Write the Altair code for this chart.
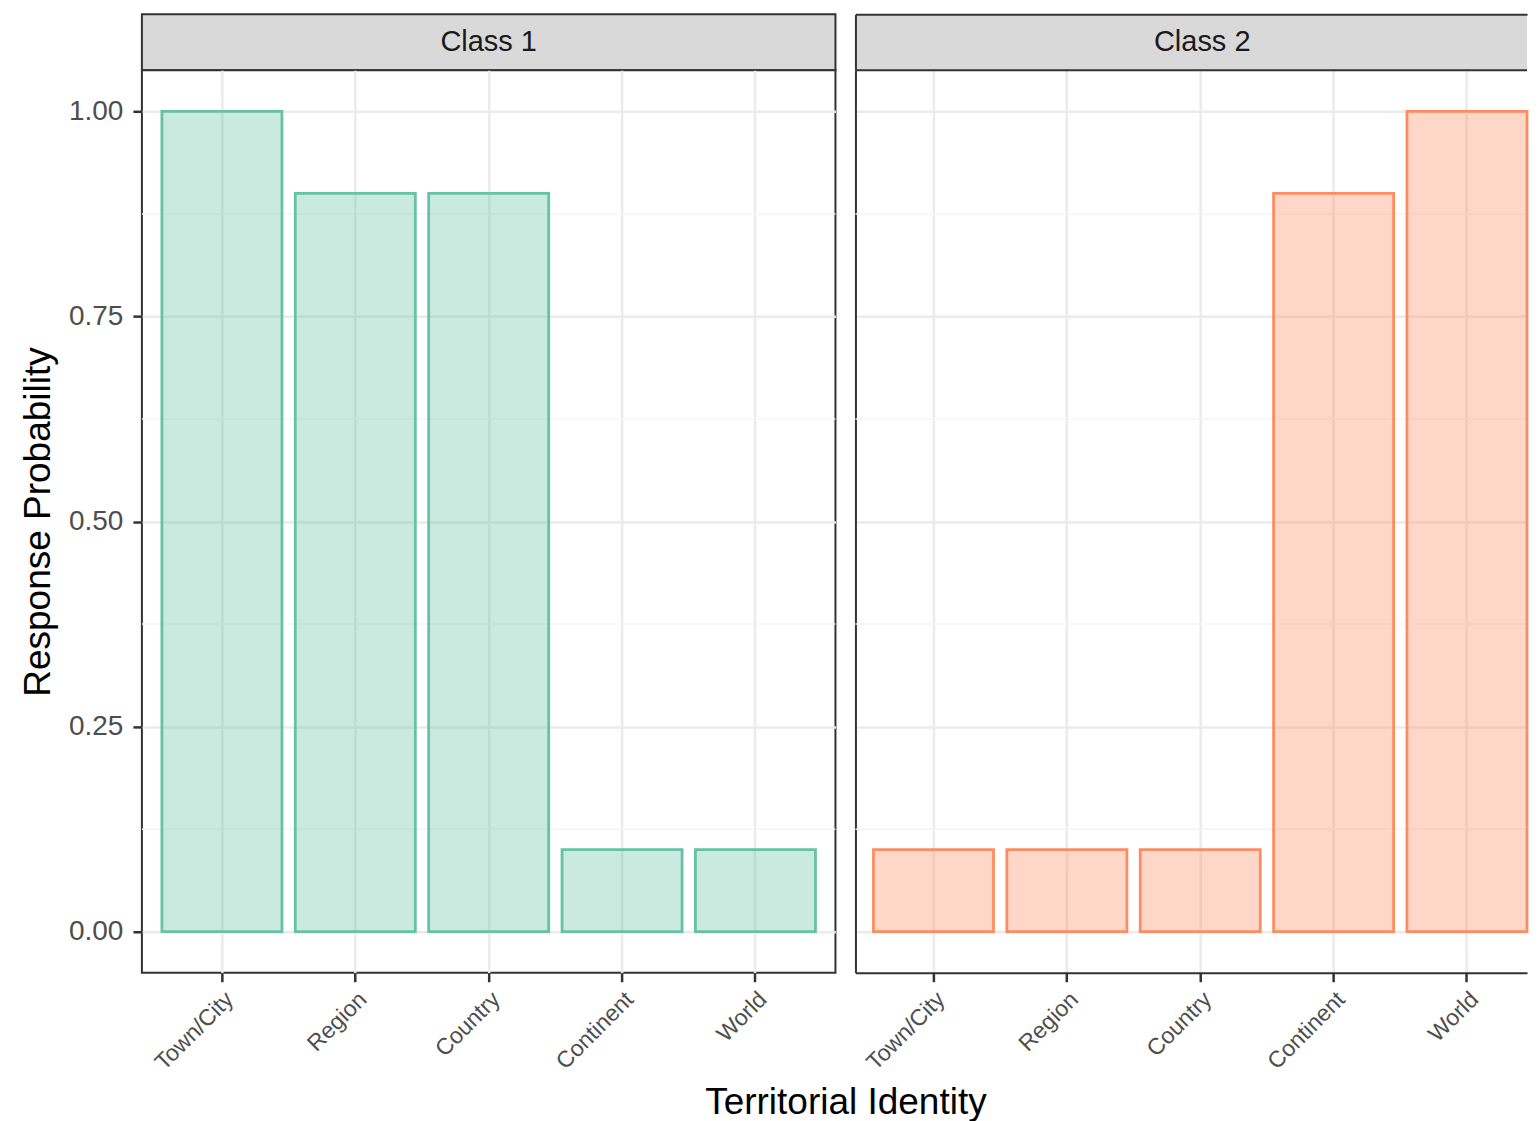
import altair as alt
import pandas as pd

categories = ["Town/City", "Region", "Country", "Continent", "World"]
classes = ["Class 1", "Class 2"]
class1_values = [1.0, 0.9, 0.9, 0.1, 0.1]
class2_values = [0.1, 0.1, 0.1, 0.9, 1.0]
colors = ["#66C2A5", "#FC8D62"]
y_ticks = [0, 0.25, 0.5, 0.75, 1.0]
y_minor = [0.125, 0.375, 0.625, 0.875]
y_domain = [-0.05, 1.05]

FONT = "Liberation Sans"
PANEL_W = 694
RIGHT_W = 672
PLOT_H = 903
STRIP_H = 56
BORDER = "#333333"
GRID = "#EBEBEB"

# band geometry (ggplot: width 0.9, expansion 0.6)
STEP = PANEL_W / 5.2
RIGHT_PO = (RIGHT_W / STEP - 4.9) / 2
RIGHT_ALIGN = min(1.0, 0.15 * STEP / (RIGHT_W - 4.9 * STEP))


def main_panel(idx, values, width):
    df = pd.DataFrame({"cat": categories, "value": values, "cls": classes[idx]})
    is_left = idx == 0
    if is_left:
        xscale = alt.Scale(domain=categories, paddingInner=0.1, paddingOuter=0.15)
    else:
        xscale = alt.Scale(domain=categories, paddingInner=0.1,
                           paddingOuter=RIGHT_PO, align=RIGHT_ALIGN)
    yscale = alt.Scale(domain=y_domain, nice=False, zero=False)
    xaxis = alt.Axis(title=None, labelAngle=315, labelFontSize=23, labelFont=FONT,
                     labelColor="#4D4D4D", tickColor=BORDER, tickWidth=2.5, tickSize=9,
                     domain=not is_left, domainColor=BORDER, domainWidth=2,
                     grid=True, gridColor=GRID, gridWidth=2.5, labelPadding=6)
    if is_left:
        yaxis = alt.Axis(values=y_ticks, format=".2f", title="Response Probability",
                         titleFontSize=37, titleFont=FONT, titleColor="black",
                         titleFontWeight="normal", labelFontSize=28, labelFont=FONT,
                         labelColor="#4D4D4D", tickColor=BORDER, tickWidth=2.5,
                         tickSize=9, domain=False, grid=True, gridColor=GRID,
                         gridWidth=2.5, labelPadding=10, titlePadding=11)
    else:
        yaxis = alt.Axis(values=y_ticks, title=None, labels=False, ticks=False,
                         domain=True, domainColor=BORDER, domainWidth=2,
                         grid=True, gridColor=GRID, gridWidth=2.5)

    minor = alt.Chart(pd.DataFrame({"y": y_minor})).mark_rule(
        color="#F4F4F4", strokeWidth=1.5
    ).encode(y=alt.Y("y:Q", scale=yscale, axis=yaxis))

    bars = alt.Chart(df).mark_bar(
        fill=colors[idx], fillOpacity=0.35, stroke=colors[idx], strokeWidth=2.8
    ).encode(
        x=alt.X("cat:N", sort=categories, scale=xscale, axis=xaxis),
        y=alt.Y("value:Q", scale=yscale, axis=yaxis),
    )

    layers = [minor, bars]
    if not is_left:
        top_line = alt.Chart(pd.DataFrame({"y": [y_domain[1]]})).mark_rule(
            color=BORDER, strokeWidth=2
        ).encode(y=alt.Y("y:Q", scale=yscale, axis=yaxis))
        layers.append(top_line)

    return alt.layer(*layers).properties(
        width=width, height=PLOT_H,
        view=alt.ViewBackground(fill="white",
                                stroke=BORDER if is_left else "transparent",
                                strokeWidth=2),
    )


def strip_panel(idx, width):
    is_left = idx == 0
    base = alt.Chart(pd.DataFrame({"label": [classes[idx]]})).mark_text(
        font=FONT, fontSize=29, color="#1A1A1A", dx=(PANEL_W - width) / 2, dy=0
    )
    if is_left:
        enc = base.encode(text="label:N")
    else:
        edge = dict(title=None, labels=False, ticks=False, grid=False, domain=True,
                    domainColor=BORDER, domainWidth=2)
        enc = base.encode(
            text="label:N",
            x=alt.X("label:N", axis=alt.Axis(orient="top", **edge)),
            y=alt.Y("label:N", axis=alt.Axis(orient="left", **edge)),
        )
    return enc.properties(
        width=width, height=STRIP_H,
        view=alt.ViewBackground(fill="#D9D9D9",
                                stroke=BORDER if is_left else "transparent",
                                strokeWidth=2),
    )


chart = alt.concat(
    strip_panel(0, PANEL_W),
    strip_panel(1, RIGHT_W),
    main_panel(0, class1_values, PANEL_W),
    main_panel(1, class2_values, RIGHT_W),
    columns=2,
    spacing=alt.RowColnumber(row=0, column=20),
    bounds="flush",
).properties(
    padding={"left": 10, "top": 5, "right": 0, "bottom": 0},
    title=alt.TitleParams(
        "Territorial Identity", orient="bottom", anchor="middle", fontSize=37,
        font=FONT, fontWeight="normal", color="black", offset=10, dx=72,
    ),
).configure(background="white").configure_view(stroke=BORDER, strokeWidth=2)

chart.save("out.html", embed_options={"renderer": "svg", "actions": False})
